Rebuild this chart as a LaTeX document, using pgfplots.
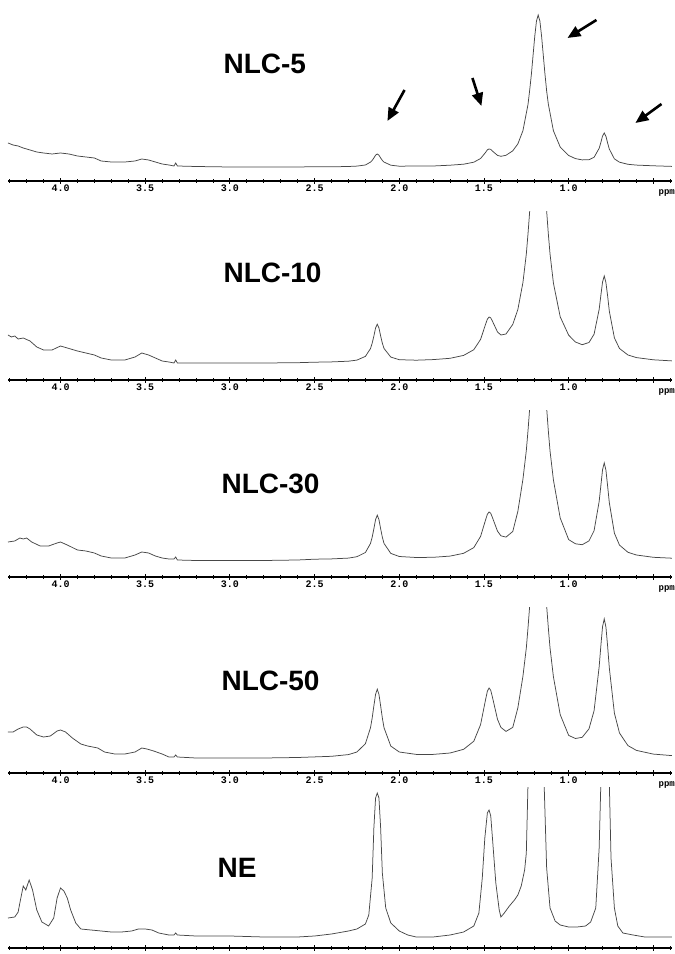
\documentclass[border=0pt]{standalone}
\usepackage{pgfplots}
\pgfplotsset{compat=1.18}
\usepackage{pgfplotstable}
\usepackage{fontspec}
\setmainfont{Liberation Sans}
\newfontfamily\tickfont{Liberation Mono}
\usetikzlibrary{arrows.meta}

\pgfplotstableread{
x y
4.31 38
4.28 36
4.25 35
4.22 33
4.18 31
4.14 29
4.10 28
4.05 27
4.00 28
3.95 27
3.90 25
3.85 24
3.80 23
3.76 20
3.70 19
3.62 19
3.56 20
3.52 22
3.48 21
3.44 19
3.40 17
3.36 16
3.33 15
3.32 18
3.31 15
3.20 14.5
3.00 14
2.80 14
2.60 14
2.50 14.3
2.40 14.2
2.30 14.5
2.25 14.9
2.20 16.0
2.17 18.9
2.16 20.6
2.15 23.0
2.14 25.8
2.13 27.0
2.12 25.8
2.11 23.0
2.10 20.6
2.09 18.9
2.05 15.8
2.00 14.8
1.90 15.0
1.80 15.0
1.70 15.8
1.62 16.8
1.56 18.8
1.52 22.5
1.49 28.7
1.48 31.2
1.47 32.0
1.46 31.6
1.45 29.9
1.42 25.6
1.40 24.7
1.37 25.7
1.33 30.2
1.30 37.1
1.27 50.3
1.24 76.6
1.23 91
1.22 106.9
1.21 126
1.20 145.0
1.19 160
1.18 166.0
1.17 160
1.16 145.0
1.15 126
1.14 107.0
1.13 90
1.12 76.8
1.09 50.2
1.05 34.0
1.00 25.5
0.96 22.4
0.92 21.1
0.88 21.3
0.85 23.7
0.82 32.7
0.81 38.5
0.80 45.0
0.79 48.0
0.78 44.7
0.77 38.0
0.76 31.9
0.73 22.1
0.70 18.8
0.65 16.7
0.60 15.9
0.50 15.2
0.39 14.6
}\specA

\pgfplotstableread{
x y
4.31 45
4.29 43
4.27 44
4.25 41
4.22 42
4.18 39
4.14 33
4.10 30
4.05 30
4.00 34
3.96 32
3.90 29
3.85 27
3.80 25
3.76 22
3.70 20
3.62 20
3.56 23
3.52 27
3.48 25
3.44 22
3.40 19
3.36 18
3.33 17
3.32 20
3.31 17
3.20 17
3.00 17
2.80 17
2.60 17.3
2.50 17.8
2.40 18.1
2.30 18.8
2.25 19.9
2.20 23.6
2.17 31.4
2.16 36.8
2.15 43.9
2.14 52
2.13 55.8
2.12 52
2.11 44.0
2.10 36.8
2.09 31.5
2.05 22.9
2.00 20.3
1.90 19.8
1.80 20.4
1.70 21.7
1.62 24.6
1.56 30.3
1.52 40.6
1.49 56.0
1.48 60.8
1.47 63.0
1.46 62.1
1.45 58.8
1.42 48.0
1.40 45.0
1.37 46.0
1.33 55.6
1.30 70.5
1.27 97.5
1.25 126
1.24 146.3
1.23 169
1.22 195
1.20 248
1.18 274
1.16 248
1.14 195
1.13 169
1.12 146
1.11 126
1.09 96.9
1.05 63.2
1.00 44.8
0.96 38.0
0.92 35.3
0.88 37.5
0.85 45.8
0.82 70.6
0.81 84.6
0.80 98.0
0.79 104.0
0.78 97.4
0.77 84
0.76 68.8
0.73 42.1
0.70 31.5
0.65 25.0
0.60 22.4
0.50 20.2
0.39 19.1
}\specB

\pgfplotstableread{
x y
4.31 35
4.27 36
4.24 39
4.22 38
4.20 39
4.17 35
4.12 31
4.07 31
4.02 34
4.00 35
3.96 32
3.90 27
3.85 26
3.80 24
3.76 21
3.70 19
3.62 19
3.56 22
3.52 25
3.48 24
3.44 21
3.40 19
3.36 18
3.33 18
3.32 20
3.31 17
3.20 16.5
3.00 16.5
2.80 16.5
2.60 17
2.50 17.8
2.40 18.1
2.30 18.9
2.25 20.3
2.20 24.5
2.17 33.5
2.16 39.8
2.15 48.2
2.14 57.4
2.13 61.8
2.12 57.4
2.11 48.2
2.10 39.8
2.09 33.5
2.05 23.6
2.00 20.5
1.90 19.5
1.80 19.7
1.70 20.9
1.62 23.7
1.56 29.4
1.52 40.6
1.49 57.4
1.48 62.7
1.47 65.0
1.46 63.7
1.45 59.4
1.42 45.8
1.40 41.2
1.37 39.9
1.33 45.5
1.30 65.6
1.27 97.7
1.25 126.5
1.24 146.5
1.23 169
1.22 195
1.20 248
1.18 274
1.16 248
1.14 195
1.13 169
1.12 146
1.11 126
1.09 97
1.05 59
1.00 37.4
0.96 33.2
0.92 32.3
0.88 36.1
0.85 46.3
0.82 75.5
0.81 91.3
0.80 107.2
0.79 114.1
0.78 106.8
0.77 90.9
0.76 74.3
0.73 43.8
0.70 31.9
0.65 24.7
0.60 22.0
0.50 19.7
0.39 18.8
}\specC

\pgfplotstableread{
x y
4.31 41
4.28 41
4.25 44
4.22 46
4.20 46
4.18 44
4.14 38
4.10 36
4.06 37
4.02 42
4.00 43
3.97 41
3.93 35
3.88 29
3.84 27
3.78 25
3.74 21
3.68 19
3.62 19
3.56 21
3.52 25
3.49 24
3.45 22
3.40 19
3.36 16
3.33 16
3.32 18
3.31 16
3.20 15
3.00 15
2.80 15
2.60 15.5
2.50 16.1
2.40 16.7
2.30 18.4
2.25 21.0
2.20 29.3
2.17 45.2
2.16 55.0
2.15 67.1
2.14 78.6
2.13 83.8
2.12 78.6
2.11 67.1
2.10 55.0
2.09 45.2
2.05 26.9
2.00 21.0
1.90 18.6
1.80 18.6
1.70 20.0
1.62 23.7
1.56 31.8
1.52 48.4
1.49 73.8
1.48 81.7
1.47 85.0
1.46 82.7
1.45 75.8
1.42 53.6
1.40 45.6
1.37 41.6
1.33 45.6
1.30 65.1
1.27 96.8
1.25 125
1.24 145.3
1.23 167.5
1.22 194
1.20 247
1.18 272
1.16 247
1.14 194
1.13 167
1.12 145
1.11 125
1.09 96.2
1.05 58.4
1.00 37.6
0.96 34.5
0.92 35.7
0.88 44.2
0.85 62.3
0.82 106.2
0.81 127.2
0.80 146.3
0.79 154.1
0.78 145.9
0.77 126.8
0.76 105.0
0.73 59.8
0.70 40.0
0.65 27.4
0.60 22.6
0.50 18.9
0.39 17.4
}\specD

\pgfplotstableread{
x y
4.31 30
4.27 31
4.25 36
4.24 45
4.22 62
4.205 58
4.185 68
4.165 58
4.14 38
4.11 26
4.07 22
4.04 30
4.02 50
4.00 60
3.98 57
3.96 50
3.94 38
3.91 25
3.88 19
3.82 18
3.76 17
3.70 16
3.64 16
3.58 17
3.54 19
3.50 19
3.46 18
3.42 15
3.36 13
3.33 13
3.32 15
3.31 13
3.20 12
3.00 12
2.80 11
2.60 11
2.50 12
2.40 14
2.30 17
2.25 19
2.20 24
2.18 33
2.16 70
2.15 120
2.14 150
2.13 155
2.12 150
2.11 120
2.10 75
2.08 40
2.05 25
2.00 17
1.95 13
1.90 11
1.80 11
1.70 13
1.62 16
1.56 22
1.53 35
1.51 70
1.495 110
1.48 135
1.47 138
1.46 132
1.45 110
1.43 65
1.41 38
1.40 31
1.38 35
1.35 42
1.32 48
1.30 53
1.28 62
1.26 78
1.25 95
1.24 165
1.22 260
1.19 300
1.16 260
1.145 165
1.13 80
1.11 40
1.08 27
1.05 23
1.00 21
0.95 21
0.90 22
0.87 26
0.84 40
0.82 100
0.81 165
0.79 300
0.76 165
0.75 90
0.73 40
0.71 22
0.68 15
0.62 13
0.55 11
0.45 11
0.39 11
}\specE

\pgfplotsset{
  nmr/.style={
    scale only axis, width=664pt, anchor=south west,
    x dir=reverse, xmin=0.39, xmax=4.31, ymin=0,
    enlargelimits=false, clip=true,
    axis x line*=bottom, axis y line=none,
    xtick={0.5,1,1.5,2,2.5,3,3.5,4},
    xticklabels={,1.0,1.5,2.0,2.5,3.0,3.5,4.0},
    minor xtick={0.4,0.5,...,4.3},
    tick align=center, major tick length=6pt, minor tick length=3.5pt,
    tick style={black, line width=0.9pt},
    axis line style={black, line width=1.3pt, -},
    xticklabel style={font=\tickfont\bfseries\fontsize{10}{11}\selectfont, inner sep=1pt},
  },
  spec/.style={black!72, line width=0.75pt, no marks},
}
\tikzset{
  lab/.style={anchor=west, font=\bfseries\fontsize{28}{28}\selectfont},
  ppm/.style={anchor=east, inner sep=0pt, font=\tickfont\bfseries\fontsize{9}{10}\selectfont},
  arr/.style={-{Triangle[length=13pt,width=11pt]}, line width=2.6pt, black},
}

\begin{document}
\begin{tikzpicture}
\path[use as bounding box] (0pt,0pt) rectangle (675pt,954pt);
\clip (0pt,0pt) rectangle (675pt,954pt);

\begin{axis}[nmr, at={(8pt,773pt)}, height=181pt, ymax=181]
\addplot[spec] table[x=x,y=y] {\specA};
\draw[arr] (axis cs:1.969,91) -- (axis cs:2.07,60);
\draw[arr] (axis cs:1.568,103) -- (axis cs:1.515,75);
\draw[arr] (axis cs:0.836,161) -- (axis cs:1.007,143);
\draw[arr] (axis cs:0.452,77) -- (axis cs:0.606,58);
\end{axis}

\begin{axis}[nmr, at={(8pt,574pt)}, height=168pt, ymax=168]
\addplot[spec] table[x=x,y=y] {\specB};
\end{axis}

\begin{axis}[nmr, at={(8pt,377pt)}, height=166pt, ymax=166]
\addplot[spec] table[x=x,y=y] {\specC};
\end{axis}

\begin{axis}[nmr, at={(8pt,181pt)}, height=165pt, ymax=165]
\addplot[spec] table[x=x,y=y] {\specD};
\end{axis}

\begin{axis}[nmr, at={(8pt,6pt)}, height=160pt, ymax=160, xticklabels={}]
\addplot[spec] table[x=x,y=y] {\specE};
\end{axis}

\node[lab] at (220pt,890pt) {NLC-5};
\node[lab] at (220pt,681pt) {NLC-10};
\node[lab] at (218pt,470pt) {NLC-30};
\node[lab] at (218pt,273pt) {NLC-50};
\node[lab] at (214pt,86pt) {NE};

\node[ppm] at (675pt,761pt) {ppm};
\node[ppm] at (675pt,562pt) {ppm};
\node[ppm] at (675pt,365pt) {ppm};
\node[ppm] at (675pt,169pt) {ppm};
\end{tikzpicture}
\end{document}
